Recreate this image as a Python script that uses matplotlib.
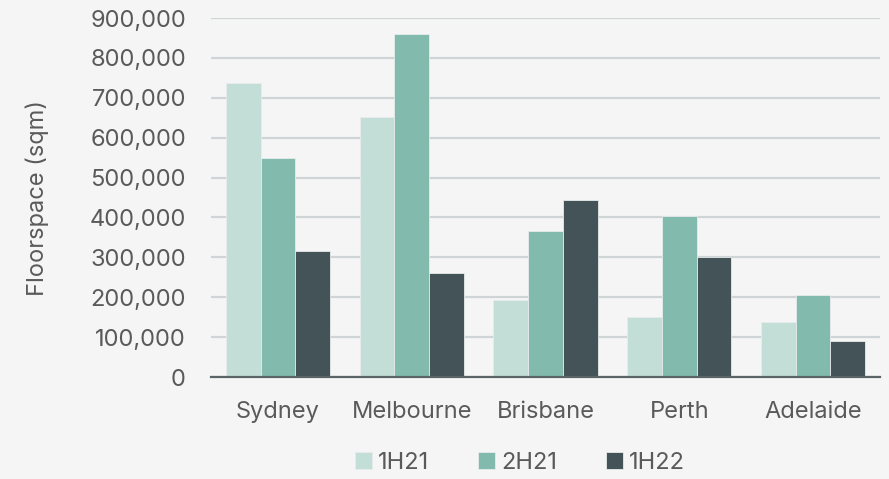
import matplotlib
matplotlib.use("Agg")
import matplotlib.pyplot as plt
import numpy as np
from matplotlib.ticker import FuncFormatter

cities = ["Sydney", "Melbourne", "Brisbane", "Perth", "Adelaide"]
h1_21 = [737000, 653000, 193000, 150000, 139000]
h2_21 = [548000, 860000, 366000, 404000, 206000]
h1_22 = [316000, 261000, 443000, 302000, 90000]
series_names = ["1H21", "2H21", "1H22"]
colours = ["#c3ded7", "#82bbad", "#435357"]

plt.rcParams['font.family'] = ['Inter', 'DejaVu Sans']
txt = "#5a5a5a"
bg = "#f5f5f5"

fig = plt.figure(figsize=(8.89, 4.79), dpi=100, facecolor=bg)
ax = fig.add_axes([211/889, 1-377/479, (880-211)/889, (377-18)/479])
ax.set_facecolor(bg)

x = np.arange(len(cities))
w = 0.26
for i, (vals, name, c) in enumerate(zip([h1_21, h2_21, h1_22], series_names, colours)):
  ax.bar(x + (i-1)*w, vals, width=w, color=c, label=name,
         edgecolor="#e6eceb", linewidth=0.6, zorder=3)

ax.set_xlim(-0.5, len(cities)-0.5)
ax.set_ylim(0, 900000)
ax.set_yticks(np.arange(0, 900001, 100000))
ax.yaxis.set_major_formatter(FuncFormatter(lambda v, p: f"{int(v):,}"))
ax.set_xticks(x)
ax.set_xticklabels(cities)

ax.grid(axis='y', color="#cfd5d6", linewidth=1.6, zorder=0)
for s in ["left", "right", "top"]:
  ax.spines[s].set_visible(False)
ax.spines["bottom"].set_color("#5b6567")
ax.spines["bottom"].set_linewidth(1.6)
ax.spines["bottom"].set_zorder(4)
ax.tick_params(length=0, labelsize=17, colors=txt, pad=17)
ax.tick_params(axis='y', pad=18)

fig.text(37/889, 1-197.5/479, "Floorspace (sqm)", rotation=90, ha='center',
         va='center', fontsize=17, color=txt)

leg = ax.legend(loc='center', bbox_to_anchor=(520/889, 1-463/479),
                bbox_transform=fig.transFigure, ncol=3, frameon=False,
                fontsize=17, handlelength=0.7, handleheight=0.7,
                handletextpad=0.25, columnspacing=2.1)
for t in leg.get_texts():
  t.set_color(txt)

fig.savefig("out.png", dpi=100, facecolor=bg)
